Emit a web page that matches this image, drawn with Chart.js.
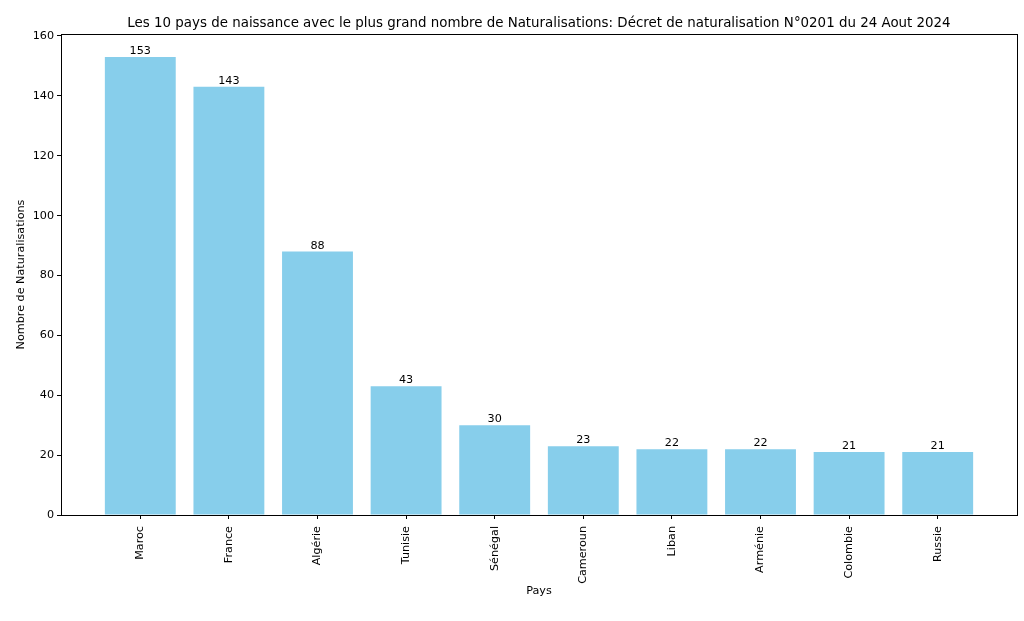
<!DOCTYPE html>
<html>
<head>
<meta charset="utf-8">
<script src="https://cdn.jsdelivr.net/npm/chart.js@4.4.1/dist/chart.umd.min.js"></script>
<style>
  html, body { margin: 0; padding: 0; background: #fff; }
  #wrap { width: 1024px; height: 621px; }
</style>
</head>
<body>
<div id="wrap"><canvas id="chart"></canvas></div>
<script>
const pays = ['Maroc', 'France', 'Algérie', 'Tunisie', 'Sénégal', 'Cameroun', 'Liban', 'Arménie', 'Colombie', 'Russie'];
const naturalisations = [153, 143, 88, 43, 30, 23, 22, 22, 21, 21];
const yTicks = [0, 20, 40, 60, 80, 100, 120, 140, 160];

const titre = 'Les 10 pays de naissance avec le plus grand nombre de Naturalisations: Décret de naturalisation N°0201 du 24 Aout 2024';
const FONT = 'DejaVu Sans';
const SIZE = 11.2;

// matplotlib-like frame, titles and bar value labels
const decor = {
  id: 'decor',
  afterDraw(chart) {
    const { ctx, chartArea: a } = chart;
    ctx.save();
    ctx.strokeStyle = '#000';
    ctx.lineWidth = 1;
    ctx.strokeRect(Math.round(a.left) + 0.5, Math.round(a.top) + 0.5,
      Math.round(a.right - a.left), Math.round(a.bottom - a.top));

    ctx.fillStyle = '#000';
    ctx.textAlign = 'center';
    ctx.textBaseline = 'alphabetic';

    ctx.font = '13.4px "' + FONT + '"';
    ctx.fillText(titre, (a.left + a.right) / 2, 27);

    ctx.font = SIZE + 'px "' + FONT + '"';
    ctx.fillText('Pays', (a.left + a.right) / 2, 594);

    ctx.save();
    ctx.translate(24, (a.top + a.bottom) / 2);
    ctx.rotate(-Math.PI / 2);
    ctx.fillText('Nombre de Naturalisations', 0, 0);
    ctx.restore();

    const meta = chart.getDatasetMeta(0);
    meta.data.forEach((bar, i) => {
      ctx.fillText(String(naturalisations[i]), bar.x, bar.y - 3);
    });
    ctx.restore();
  }
};

new Chart(document.getElementById('chart'), {
  type: 'bar',
  data: {
    datasets: [{
      data: naturalisations.map((v, i) => ({ x: i, y: v })),
      backgroundColor: '#87CEEB',
      borderWidth: 0,
      barPercentage: 0.8,
      categoryPercentage: 1.0
    }]
  },
  options: {
    responsive: true,
    maintainAspectRatio: false,
    animation: false,
    devicePixelRatio: 1,
    layout: { padding: { top: 34, right: 7, left: 0, bottom: 0 } },
    plugins: { legend: { display: false }, title: { display: false }, tooltip: { enabled: false } },
    scales: {
      x: {
        type: 'linear',
        offset: false,
        min: -0.895,
        max: 9.895,
        afterBuildTicks: s => { s.ticks = pays.map((p, i) => ({ value: i })); },
        afterFit: s => { s.height = 106; },
        grid: { offset: false, drawOnChartArea: false, drawTicks: true, tickLength: 4, tickColor: '#000' },
        border: { display: false },
        ticks: {
          minRotation: 90,
          maxRotation: 90,
          autoSkip: false,
          padding: 7,
          color: '#000',
          font: { family: FONT, size: SIZE },
          callback: v => pays[v]
        }
      },
      y: {
        min: 0,
        max: 160.65,
        afterBuildTicks: s => { s.ticks = yTicks.map(v => ({ value: v })); },
        afterFit: s => { s.width = 61; },
        grid: { drawOnChartArea: false, drawTicks: true, tickLength: 4, tickColor: '#000' },
        border: { display: false },
        ticks: {
          padding: 3,
          color: '#000',
          font: { family: FONT, size: SIZE }
        }
      }
    }
  },
  plugins: [decor]
});
</script>
</body>
</html>
